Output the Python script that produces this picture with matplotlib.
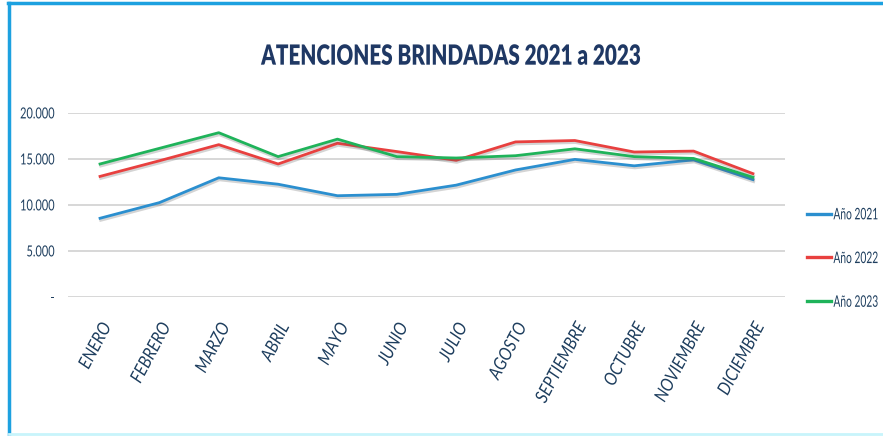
import matplotlib
matplotlib.use('Agg')
import matplotlib.pyplot as plt
import matplotlib.patheffects as pe
from matplotlib.lines import Line2D
from matplotlib.transforms import Affine2D
from matplotlib.ticker import FuncFormatter

meses = ['ENERO', 'FEBRERO', 'MARZO', 'ABRIL', 'MAYO', 'JUNIO', 'JULIO',
         'AGOSTO', 'SEPTIEMBRE', 'OCTUBRE', 'NOVIEMBRE', 'DICIEMBRE']
anio_2021 = [8550, 10250, 12950, 12250, 11000, 11150, 12150, 13800, 14950, 14250, 14900, 12750]
anio_2022 = [13100, 14800, 16550, 14450, 16700, 15800, 14850, 16850, 17000, 15750, 15850, 13400]
anio_2023 = [14450, 16150, 17850, 15250, 17150, 15250, 15100, 15350, 16100, 15250, 15050, 13000]
series = [('Año 2021', anio_2021, '#2b8fcf'),
          ('Año 2022', anio_2022, '#e8403f'),
          ('Año 2023', anio_2023, '#1fb35a')]

fuente = ['Lato', 'DejaVu Sans']
texto = '#1f3f5f'


class Estrecho(pe.AbstractPathEffect):
    """Comprime el texto en horizontal (la fuente original es condensada)."""
    def __init__(self, sx, ancla='center'):
        super().__init__()
        self.sx = sx
        self.ancla = ancla

    def draw_path(self, renderer, gc, tpath, affine, rgbFace=None):
        ext = tpath.get_extents()
        cx = {'left': ext.x0, 'center': (ext.x0 + ext.x1) / 2, 'right': ext.x1}[self.ancla]
        t = Affine2D().translate(-cx, 0).scale(self.sx, 1).translate(cx, 0) + affine
        renderer.draw_path(gc, tpath, t, rgbFace)


fig = plt.figure(figsize=(8.83, 4.36), dpi=100)
ax = fig.add_axes([0.077, 0.319, 0.812, 0.422])

x = list(range(len(meses)))
for nombre, vals, color in series:
    ax.plot(x, vals, color=color, lw=2.0, label=nombre,
            path_effects=[pe.SimpleLineShadow(offset=(0.5, -1.5), alpha=0.25, shadow_color='#555555'),
                          pe.Normal()])

ax.set_ylim(0, 20000)
ax.set_xlim(-0.54, 11.54)
ax.set_yticks([0, 5000, 10000, 15000, 20000])
ax.yaxis.set_major_formatter(FuncFormatter(lambda v, p: '-' if v == 0 else f'{int(v):,}'.replace(',', '.')))
ax.grid(axis='y', color='#d4d4d4', lw=1.3)
ax.set_axisbelow(True)
for s in ax.spines.values():
    s.set_visible(False)
ax.tick_params(length=0)
ax.tick_params(axis='y', pad=9.5)
ax.tick_params(axis='x', pad=17)
ax.set_xticks(x)
ax.set_xticklabels(meses, rotation=62, ha='right', rotation_mode='anchor',
                   style='italic', family=fuente, fontsize=13, color=texto)
for t in ax.get_xticklabels():
    t.set_path_effects([Estrecho(0.88, 'right')])
for t in ax.get_yticklabels():
    t.set_family(fuente)
    t.set_fontsize(11)
    t.set_color(texto)
    t.set_path_effects([Estrecho(0.72, 'right')])

titulo = fig.text(0.511, 0.87, 'ATENCIONES BRINDADAS 2021 a 2023', ha='center', va='center',
                  family=fuente, fontweight='heavy', fontsize=20, color='#1f3864')
titulo.set_path_effects([Estrecho(0.745, 'center')])

handles = [Line2D([0], [0], color=c, lw=2.4) for _, _, c in series]
leg = fig.legend(handles, [n for n, _, _ in series], loc='center left',
                 bbox_to_anchor=(0.914, 0.406), frameon=False, handlelength=1.5,
                 handletextpad=0.15, labelspacing=1.85, borderaxespad=0, borderpad=0,
                 prop={'family': fuente, 'size': 11.5}, labelcolor=texto)
for t in leg.get_texts():
    t.set_path_effects([Estrecho(0.64, 'left')])

# marco del recuadro
fig.add_artist(Line2D([0.009, 1.0], [0.992, 0.992], color='#1da1e0', lw=2.5, transform=fig.transFigure))
fig.add_artist(Line2D([0.010, 0.010], [0.0, 0.992], color='#1da1e0', lw=2.5, transform=fig.transFigure))
fig.add_artist(Line2D([0.010, 1.0], [0.004, 0.004], color='#c8f4fb', lw=2, transform=fig.transFigure))

fig.savefig('out.png', dpi=100)
